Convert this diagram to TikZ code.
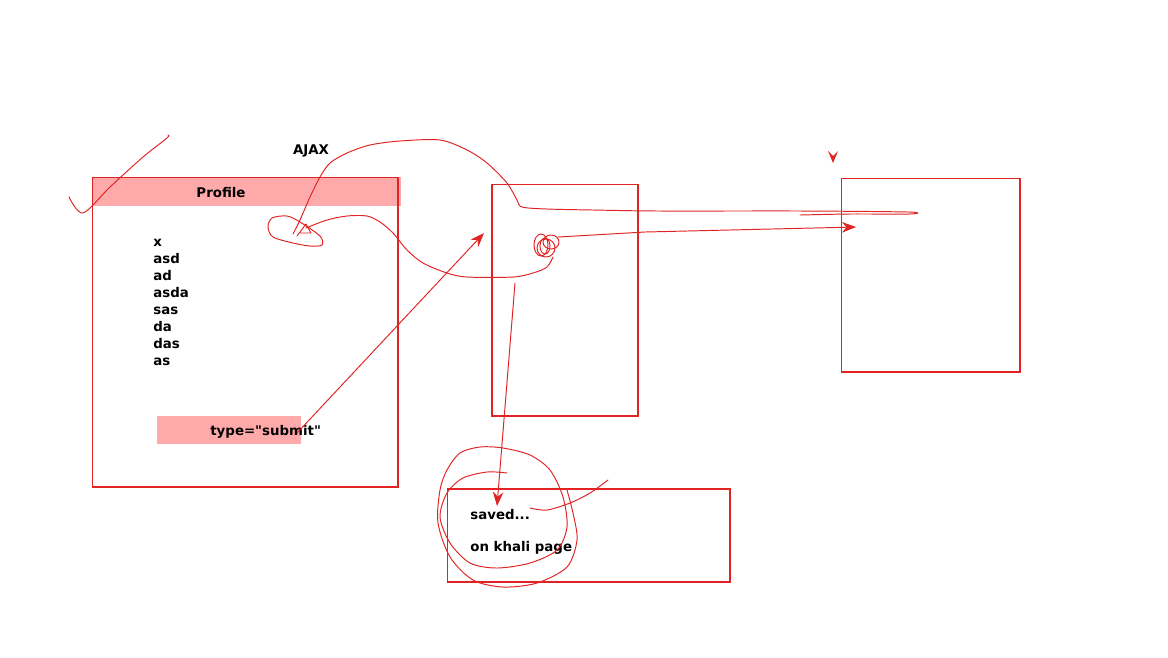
\documentclass[tikz,border=0pt]{standalone}
\usepackage{fontspec}
\setmainfont{DejaVu Sans}[Ligatures=TeXOff]
\usetikzlibrary{arrows.meta}
\definecolor{penred}{RGB}{225,35,35}
\definecolor{barpink}{RGB}{255,170,170}
\begin{document}
\begin{tikzpicture}[x=0.02cm,y=-0.02cm,
	box/.style={draw=penred,line width=0.6pt,inner sep=0pt,outer sep=0pt},
	bar/.style={fill=barpink,inner sep=0pt,outer sep=0pt},
	txt/.style={font=\fontsize{7.6}{9}\selectfont\bfseries,inner sep=0pt,anchor=base west},
	pen/.style={penred,line width=0.55pt,line join=round,line cap=round},
	arr/.style={pen,-{Stealth[length=8pt,width=6pt]}}]
\useasboundingbox (0,0) rectangle (1168,657);
% page with profile form
\node[bar,minimum width=6.18cm,minimum height=0.58cm] (proftitle) at (246.5,191.5) {};
\node[box,minimum width=6.12cm,minimum height=6.2cm] (profile) at (245,332) {};
\node[txt,anchor=base] at (221,197) {Profile};
\foreach \t [count=\i] in {x,asd,ad,asda,sas,da,das,as}
	\node[txt] (item\i) at (153,229+17*\i) {\t};
\node[bar,minimum width=2.88cm,minimum height=0.56cm] (submitbtn) at (229,430) {};
\node[txt] at (210,435) {type="submit"};
\node[txt,anchor=base] (ajaxlbl) at (311,154) {AJAX};
% other boxes
\node[box,minimum width=2.92cm,minimum height=4.64cm] (srvbox) at (565,300) {};
\node[box,minimum width=3.58cm,minimum height=3.88cm] (pagebox) at (930.5,275) {};
\node[box,minimum width=5.66cm,minimum height=1.86cm] (savedbox) at (588.5,535.5) {};
\node[txt] (saved) at (470,519) {saved...};
\node[txt] (khali) at (470,551) {on khali page};
% arrows
\coordinate (btnend) at (297,433);
\coordinate (srvin) at (484,233);
\coordinate (srvout) at (515,283);
\coordinate (knot) at (558,237);
\coordinate (pagein) at (856,227);
\coordinate (savedin) at (497,506);
\draw[arr] (btnend) -- (srvin);
\draw[arr] (srvout) -- (savedin);
\draw[arr] (knot) -- (645,232) -- (pagein);
% tick mark
\draw[pen] plot[smooth] coordinates {(69,197) (83,213) (110,187) (143,157) (167,138) (168,135)};
\fill[penred] (828,151) -- (833,156) -- (838,151) -- (833,163) -- cycle;
% ajax loop
\draw[pen] plot[smooth] coordinates {(293,234) (300,220) (310,197) (320,177) (330,163) (347,153) (370,145) (400,141) (440,140) (467,150) (487,163) (507,183) (517,200) (522,207) (547,209) (593,210) (660,211) (800,211) (908,212) (910,214) (850,214) (800,215)};
\draw[pen] plot[smooth cycle] coordinates {(268,227) (272,218) (287,216) (300,222) (320,236) (322,245) (310,246) (293,243) (273,237)};
\draw[pen] (297,236) -- (306,224) -- (311,233) -- (300,233);
\draw[pen] plot[smooth] coordinates {(306,228) (327,220) (347,216) (367,216) (380,222) (393,233) (407,250) (423,263) (447,273) (467,277) (513,277) (533,273) (547,267) (553,257)};
% scribble
\draw[pen] (541,245) ellipse [x radius=7,y radius=11];
\draw[pen] (546,248) ellipse [x radius=9,y radius=9];
\draw[pen] (551,242) ellipse [x radius=8,y radius=7];
\draw[pen] (545,246) ellipse [x radius=5,y radius=8];
% circles round saved
\draw[pen] plot[smooth] coordinates {(507,473) (487,472) (463,478) (447,493) (440,517) (450,543) (470,563) (497,568) (530,563) (557,550) (567,527) (563,497) (550,470) (530,455) (503,448) (480,447) (460,453) (447,470) (440,490) (438,523) (450,557) (473,580) (503,587) (537,583) (567,567) (577,540) (573,513) (567,490)};
\draw[pen] plot[smooth] coordinates {(530,508) (547,510) (570,503) (590,493) (608,480)};
\end{tikzpicture}
\end{document}
